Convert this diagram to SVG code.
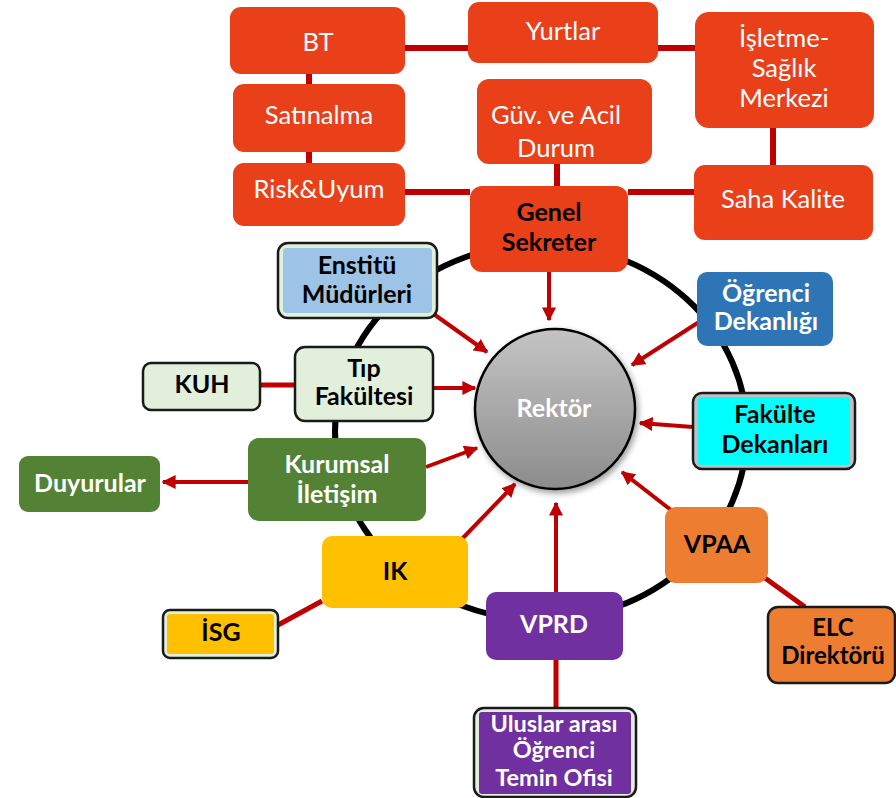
<svg xmlns="http://www.w3.org/2000/svg" width="896" height="798" viewBox="0 0 896 798">
<defs>
<style>
text{font-family:Lato,"Noto Sans","Liberation Sans",sans-serif;text-anchor:middle}
.r{font-size:25.5px;fill:#fff}
.bw{font-size:25px;font-weight:bold;fill:#fff}
.bk{font-size:25px;font-weight:bold;fill:#000}
.sm{font-size:23.5px}
.xs{font-size:24px}
.red{fill:#E9401A}
.ln{stroke:#C00000;stroke-width:6;fill:none}
.ln5{stroke:#C00000;stroke-width:5;fill:none}
.ar{stroke:#C00000;stroke-width:4;fill:none;marker-end:url(#ah)}
.blk{stroke:#1a1a1a;stroke-width:2.5}
</style>
<marker id="ah" viewBox="0 0 10 10" refX="9" refY="5" markerWidth="14" markerHeight="14" markerUnits="userSpaceOnUse" orient="auto">
<path d="M0,0 L10,5 L0,10 z" fill="#C00000"/>
</marker>
<linearGradient id="gr" x1="0" y1="0" x2="0" y2="1">
<stop offset="0" stop-color="#C4C4C4"/>
<stop offset="1" stop-color="#8C8C8C"/>
</linearGradient>
<filter id="sh" x="-20%" y="-20%" width="140%" height="140%">
<feGaussianBlur in="SourceAlpha" stdDeviation="3"/>
<feOffset dx="2" dy="3"/>
<feComponentTransfer><feFuncA type="linear" slope="0.4"/></feComponentTransfer>
<feMerge><feMergeNode/><feMergeNode in="SourceGraphic"/></feMerge>
</filter>
</defs>
<rect width="896" height="798" fill="#fff"/>
<g id="ring">
<ellipse cx="541" cy="432" rx="206" ry="188" fill="none" stroke="#000" stroke-width="6"/>
</g>
<g id="connectors">
<path class="ln" d="M405,48 H468 M658,48 H695 M309,74 V84 M309,152 V163 M405,192 H470 M628,192 H694 M557,164 V186 M773,128 V165"/>
<path class="ln5" d="M260,385 H295 M278,625 L322,601 M556,660 V708 M765,578 L805,607"/>
<path class="ar" d="M549,272 V320"/>
<path class="ar" d="M435,315 L487,352"/>
<path class="ar" d="M433,388 L475,388"/>
<path class="ar" d="M426,467 L477,448"/>
<path class="ar" d="M248,482 L163,482"/>
<path class="ar" d="M460,541 L515,484"/>
<path class="ar" d="M556,592 V503"/>
<path class="ar" d="M671,510 L622,472"/>
<path class="ar" d="M693,427 L640,423"/>
<path class="ar" d="M699,322 L632,365"/>
</g>
<g id="n-bt"><rect class="red" x="230" y="7" width="175" height="67" rx="11"/><text class="r" x="318" y="51">BT</text></g>
<g id="n-yurtlar"><rect class="red" x="468" y="2" width="190" height="61" rx="11"/><text class="r" x="563" y="40">Yurtlar</text></g>
<g id="n-isletme"><rect class="red" x="695" y="12" width="179" height="116" rx="14"/><text class="r" x="784" y="47">İşletme-</text><text class="r" x="784" y="77">Sağlık</text><text class="r" x="784" y="107">Merkezi</text></g>
<g id="n-satinalma"><rect class="red" x="233" y="84" width="172" height="68" rx="11"/><text class="r" x="319" y="124">Satınalma</text></g>
<g id="n-guv"><rect class="red" x="477" y="79" width="175" height="85" rx="12"/><text class="r" x="556" y="124">Güv. ve Acil</text><text class="r" x="556" y="157">Durum</text></g>
<g id="n-risk"><rect class="red" x="233" y="163" width="172" height="63" rx="11"/><text class="r" x="319" y="198">Risk&amp;Uyum</text></g>
<g id="n-genel"><rect class="red" x="470" y="186" width="158" height="86" rx="12"/><text class="bk" x="549" y="221">Genel</text><text class="bk" x="549" y="251">Sekreter</text></g>
<g id="n-saha"><rect class="red" x="694" y="165" width="179" height="75" rx="11"/><text class="r" x="783" y="208">Saha Kalite</text></g>
<g id="n-rektor"><circle cx="555" cy="409" r="80" fill="url(#gr)" stroke="#000" stroke-width="2.5" filter="url(#sh)"/><text class="bw" x="554" y="417">Rektör</text></g>
<g id="n-enstitu"><rect class="blk" x="278" y="243" width="159" height="75" rx="10" fill="#E2EFDA"/><rect x="283" y="248" width="149" height="65" rx="4" fill="#9DC3E6"/><text class="bk" x="357" y="274">Enstitü</text><text class="bk" x="357" y="303">Müdürleri</text></g>
<g id="n-tip"><rect class="blk" x="295" y="347" width="138" height="74" rx="10" fill="#E2EFDA"/><text class="bk" x="364" y="377">Tıp</text><text class="bk" x="364" y="405">Fakültesi</text></g>
<g id="n-kuh"><rect class="blk" x="143" y="363" width="117" height="47" rx="8" fill="#E2EFDA"/><text class="bk" x="202" y="393">KUH</text></g>
<g id="n-kurumsal"><rect x="248" y="438" width="178" height="83" rx="11" fill="#548235"/><text class="bw" x="337" y="473">Kurumsal</text><text class="bw" x="337" y="503">İletişim</text></g>
<g id="n-duyurular"><rect x="19" y="456" width="141" height="56" rx="9" fill="#548235"/><text class="bw" x="90" y="492">Duyurular</text></g>
<g id="n-ik"><rect x="322" y="536" width="146" height="72" rx="10" fill="#FFC000"/><text class="bk" x="395" y="580">IK</text></g>
<g id="n-isg"><rect class="blk" x="163" y="610" width="115" height="48" rx="7" fill="#E2EFDA"/><rect x="167" y="614" width="107" height="40" rx="3" fill="#FFC000"/><text class="bk" x="221" y="641">İSG</text></g>
<g id="n-ogrenci"><rect x="697" y="272" width="136" height="74" rx="10" fill="#2E75B6"/><text class="bw" x="766" y="302">Öğrenci</text><text class="bw" x="766" y="330">Dekanlığı</text></g>
<g id="n-fakulte"><rect class="blk" x="693" y="393" width="162" height="76" rx="9" fill="#BFBFBF"/><rect x="698" y="397" width="152" height="68" rx="3" fill="#00FFFF"/><text class="bk" x="775" y="423">Fakülte</text><text class="bk" x="775" y="453">Dekanları</text></g>
<g id="n-vpaa"><rect x="665" y="507" width="103" height="76" rx="11" fill="#ED7D31"/><text class="bk" x="717" y="553">VPAA</text></g>
<g id="n-elc"><rect class="blk" x="768" y="607" width="127" height="76" rx="10" fill="#ED7D31"/><text class="bk xs" x="833" y="636">ELC</text><text class="bk xs" x="833" y="664">Direktörü</text></g>
<g id="n-vprd"><rect x="486" y="592" width="137" height="68" rx="10" fill="#7030A0"/><text class="bw" x="554" y="633">VPRD</text></g>
<g id="n-uluslar"><rect class="blk" x="474" y="708" width="162" height="89" rx="10" fill="#E2EFDA"/><rect x="479" y="712" width="152" height="82" rx="3" fill="#7030A0"/><text class="bw sm" x="554" y="732">Uluslar arası</text><text class="bw sm" x="554" y="758">Öğrenci</text><text class="bw sm" x="554" y="786">Temin Ofisi</text></g>
</svg>
